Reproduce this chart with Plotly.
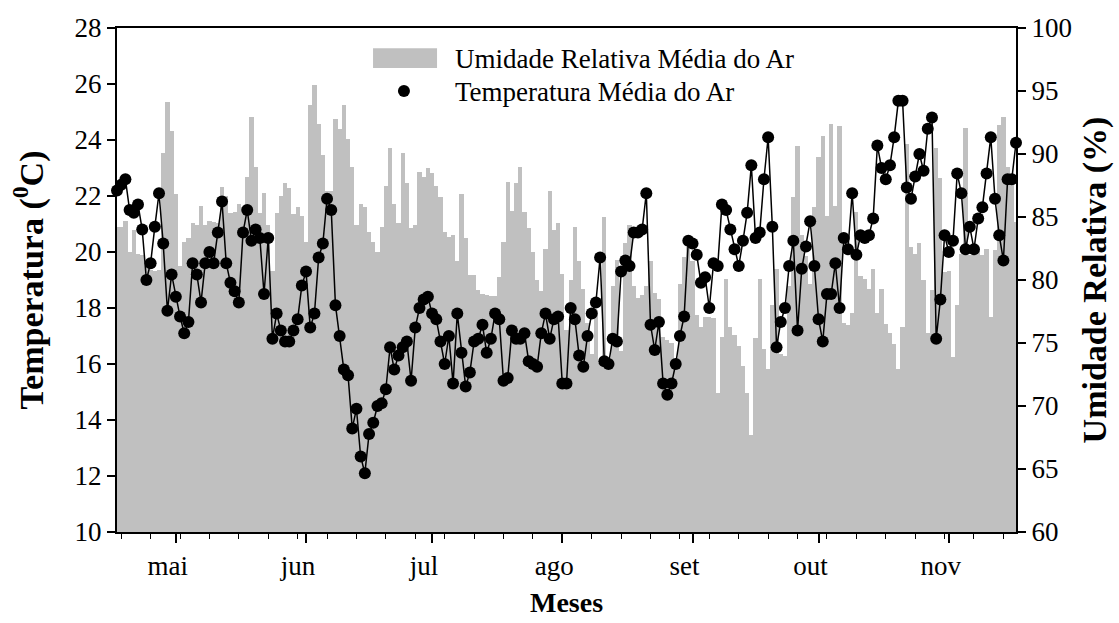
import pandas as pd
import plotly.graph_objects as go

# ---------------- data (daily, 17 Apr -> 17 Nov) ----------------
start_date = "2019-04-17"

temperature = [
    22.2, 22.4, 22.6, 21.5, 21.4, 21.7, 20.8, 19.0, 19.6, 20.9, 22.1, 20.3, 17.9, 19.2, 18.4, 17.7, 17.1, 17.5, 19.6, 19.2, 18.2, 19.6, 20.0, 19.6, 20.7, 21.8, 19.6, 18.9, 18.6, 18.2, 20.7,
    21.5, 20.4, 20.8, 20.5, 18.5, 20.5, 16.9, 17.8, 17.2, 16.8, 16.8, 17.2, 17.6, 18.8, 19.3, 17.3, 17.8, 19.8, 20.3, 21.9, 21.5, 18.1, 17.0, 15.8, 15.6, 13.7, 14.4, 12.7, 12.1, 13.5,
    13.9, 14.5, 14.6, 15.1, 16.6, 15.8, 16.3, 16.6, 16.8, 15.4, 17.3, 18.0, 18.3, 18.4, 17.8, 17.6, 16.8, 16.0, 17.0, 15.3, 17.8, 16.4, 15.2, 15.7, 16.8, 16.9, 17.4, 16.4, 16.9, 17.8, 17.6,
    15.4, 15.5, 17.2, 16.9, 16.9, 17.1, 16.1, 16.0, 15.9, 17.1, 17.8, 16.9, 17.6, 17.7, 15.3, 15.3, 18.0, 17.6, 16.3, 15.9, 17.0, 17.8, 18.2, 19.8, 16.1, 16.0, 16.9, 16.8, 19.3, 19.7, 19.5,
    20.7, 20.7, 20.8, 22.1, 17.4, 16.5, 17.5, 15.3, 14.9, 15.3, 16.0, 17.0, 17.7, 20.4, 20.3, 19.9, 18.9, 19.1, 18.0, 19.6, 19.5, 21.7, 21.5, 20.8, 20.1, 19.5, 20.4, 21.4, 23.1, 20.5, 20.7,
    22.6, 24.1, 20.9, 16.6, 17.5, 18.0, 19.5, 20.4, 17.2, 19.4, 20.2, 21.1, 19.5, 17.6, 16.8, 18.5, 18.5, 19.6, 18.0, 20.5, 20.1, 22.1, 19.9, 20.6, 20.5, 20.6, 21.2, 23.8, 23.0, 22.6,
    23.1, 24.1, 25.4, 25.4, 22.3, 21.9, 22.7, 23.5, 22.9, 24.4, 24.8, 16.9, 18.3, 20.6, 20.0, 20.4, 22.8, 22.1, 20.1, 20.9, 20.1, 21.2, 21.6, 22.8, 24.1, 21.9, 20.6, 19.7, 22.6, 22.6, 23.9,
]

humidity = [
    84.2, 84.2, 84.7, 82.2, 84.0, 82.1, 82.0, 81.5, 80.8, 80.7, 80.8, 90.1, 94.1, 91.8, 86.8, 81.1, 83.0, 83.3, 84.5, 84.4, 85.9, 84.4, 84.7, 84.6, 84.5, 87.4, 86.7, 85.3, 85.4, 86.0, 85.8,
    88.2, 92.9, 89.0, 85.3, 86.9, 84.4, 80.7, 85.3, 86.7, 87.7, 87.3, 85.2, 85.8, 85.1, 83.0, 93.9, 95.5, 92.4, 89.9, 87.1, 87.1, 92.8, 92.0, 93.9, 91.2, 89.0, 84.4, 86.0, 85.8, 83.8,
    83.0, 82.2, 84.2, 87.5, 90.5, 86.0, 84.5, 90.1, 87.7, 84.1, 84.4, 88.6, 88.2, 88.9, 88.5, 87.5, 86.6, 83.8, 83.4, 83.6, 81.5, 86.8, 83.3, 80.4, 80.4, 79.2, 78.9, 78.8, 78.7, 78.7, 80.2,
    83.0, 87.8, 85.5, 87.7, 89.0, 85.4, 84.1, 82.2, 80.0, 79.1, 82.5, 87.1, 84.0, 84.5, 80.5, 76.0, 80.0, 84.2, 81.5, 79.3, 76.6, 74.1, 77.6, 73.4, 85.0, 73.4, 79.5, 81.6, 74.4, 82.9, 84.4,
    79.5, 78.6, 78.8, 79.5, 81.5, 79.0, 78.5, 75.5, 75.2, 75.0, 73.7, 79.7, 81.8, 82.6, 81.5, 77.2, 76.3, 77.1, 77.1, 77.0, 71.0, 75.5, 80.1, 76.3, 75.6, 74.8, 73.2, 71.0, 67.7, 75.4, 80.1,
    74.5, 72.9, 78.0, 80.9, 74.1, 74.0, 79.5, 86.6, 90.6, 83.6, 81.9, 79.7, 85.8, 89.8, 91.4, 85.1, 92.4, 85.9, 92.2, 76.6, 76.4, 77.4, 85.4, 80.3, 80.1, 79.3, 80.9, 77.4, 79.3, 76.5,
    75.8, 74.9, 72.9, 76.3, 90.8, 82.6, 82.1, 82.9, 80.0, 75.8, 79.2, 90.5, 88.1, 80.6, 80.7, 73.9, 78.0, 82.1, 92.1, 82.0, 82.0, 82.4, 82.0, 82.5, 77.1, 82.4, 92.3, 92.9, 89.0, 88.1, 84.6,
]

month_starts = ["2019-05-01", "2019-06-01", "2019-07-01", "2019-08-01",
                "2019-09-01", "2019-10-01", "2019-11-01"]
month_labels = ["mai", "jun", "jul", "ago", "set", "out", "nov"]

temp_ticks = [10, 12, 14, 16, 18, 20, 22, 24, 26, 28]
hum_ticks = [60, 65, 70, 75, 80, 85, 90, 95, 100]

label_hum = "Umidade Relativa Média do Ar"
label_temp = "Temperatura Média do Ar"

assert len(temperature) == len(humidity)
dates = pd.date_range(start_date, periods=len(temperature), freq="D")

FONT = "Liberation Serif"
BAR_COLOR = "#c0c0c0"

fig = go.Figure()
fig.add_trace(go.Bar(
    x=dates, y=humidity, yaxis="y", name=label_hum,
    marker=dict(color=BAR_COLOR, line=dict(width=0)),
    showlegend=False,
))
fig.add_trace(go.Scatter(
    x=dates, y=temperature, yaxis="y2", name=label_temp,
    mode="lines+markers",
    line=dict(color="black", width=1.5),
    marker=dict(color="black", size=12),
    cliponaxis=False, showlegend=False,
))

axis_common = dict(
    showgrid=False, zeroline=False, showline=True, linecolor="black",
    ticks="outside", tickcolor="black",
    tickfont=dict(family=FONT, size=27, color="black"),
)

fig.update_layout(
    width=1119, height=623,
    margin=dict(l=117, r=103, t=28, b=91, autoexpand=False),
    paper_bgcolor="white", plot_bgcolor="white",
    bargap=0, showlegend=False,
    xaxis=dict(
        **axis_common,
        type="date",
        range=[dates[0], dates[-1]],
        tickmode="array", tickvals=month_starts, ticktext=month_labels,
        ticklen=9, tickwidth=1.5, linewidth=1.5, mirror=True,
        ticklabelshift=-8,
        minor=dict(ticks="outside", ticklen=5, tickwidth=1, tickcolor="black",
                   tick0="2019-04-18", dtick=7 * 86400000, showgrid=False),
        title=dict(text="<b>Meses</b>", font=dict(family=FONT, size=28, color="black"),
                   standoff=12),
    ),
    yaxis=dict(
        **axis_common,
        side="right", range=[60, 100],
        tickmode="array", tickvals=hum_ticks,
        ticklen=8, tickwidth=1.5, linewidth=2,
        title=dict(text="<b>Umidade Relativa (%)</b>",
                   font=dict(family=FONT, size=34, color="black"), standoff=11),
    ),
    yaxis2=dict(
        **axis_common,
        overlaying="y", side="left", anchor="x", range=[10, 28],
        tickmode="array", tickvals=temp_ticks,
        ticklen=8, tickwidth=1.5, linewidth=2,
        title=dict(text="<b>Temperatura (<sup>0</sup>C)</b>",
                   font=dict(family=FONT, size=34, color="black"), standoff=21),
    ),
)

# ---- legend drawn inside the plot area ----
fig.add_shape(type="rect", xref="paper", yref="paper",
              x0=0.2848, x1=0.356, y0=0.9206, y1=0.960,
              fillcolor=BAR_COLOR, line=dict(width=0), layer="above")
fig.add_shape(type="circle", xref="paper", yref="paper",
              xsizemode="pixel", ysizemode="pixel",
              xanchor=0.3192, yanchor=0.875, x0=-6, x1=6, y0=-6, y1=6,
              fillcolor="black", line=dict(width=0), layer="above")
fig.add_annotation(xref="paper", yref="paper", x=0.3737, y=0.9385,
                   xanchor="left", yanchor="middle", showarrow=False,
                   text=label_hum, font=dict(family=FONT, size=27, color="black"))
fig.add_annotation(xref="paper", yref="paper", x=0.3737, y=0.873,
                   xanchor="left", yanchor="middle", showarrow=False,
                   text=label_temp, font=dict(family=FONT, size=27, color="black"))

fig.write_html("out.html")
